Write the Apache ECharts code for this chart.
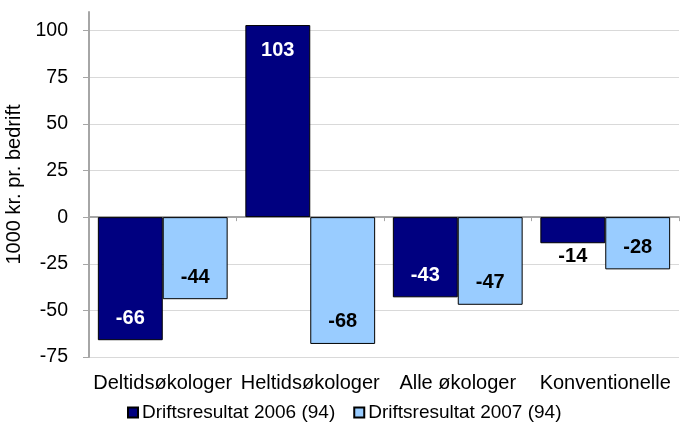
<!DOCTYPE html>
<html>
<head>
<meta charset="utf-8">
<script src="https://cdn.jsdelivr.net/npm/echarts@6/dist/echarts.min.js"></script>
<style>
  html, body { margin: 0; padding: 0; background: #fff; }
  #c1 { width: 680px; height: 436px; }
</style>
</head>
<body>
<div id="c1"></div>
<script>
var categories = ['Deltidsøkologer', 'Heltidsøkologer', 'Alle økologer', 'Konventionelle'];
var res2006 = [-66, 103, -43, -14];
var res2007 = [-44, -68, -47, -28];
var seriesNames = ['Driftsresultat 2006 (94)', 'Driftsresultat 2007 (94)'];

// label placement per bar: inside the end, or outside when the bar is short
function makeData(vals, inColor) {
  return vals.map(function (v) {
    var short = Math.abs(v) < 20;
    return {
      value: v,
      label: {
        position: short ? 'bottom' : (v >= 0 ? 'insideTop' : 'insideBottom'),
        distance: short ? 3 : (v >= 0 ? 15 : 12),
        color: short ? '#000' : inColor
      }
    };
  });
}

var myChart = echarts.init(document.getElementById('c1'));
myChart.setOption({
  backgroundColor: '#fff',
  textStyle: { fontFamily: 'Liberation Sans, Arial, sans-serif' },
  grid: { left: 89, right: 1, top: 12, bottom: 79, containLabel: false, outerBoundsMode: 'none' },
  legend: {
    bottom: 9,
    left: 122,
    itemWidth: 10,
    itemHeight: 10,
    itemGap: 18,
    icon: 'rect',
    textStyle: { fontSize: 19, color: '#000', padding: [0, 0, 0, -1], fontFamily: 'Liberation Sans, Arial, sans-serif' },
    data: seriesNames
  },
  xAxis: [{
    type: 'category',
    data: categories,
    position: 'bottom',
    axisLine: { show: false, onZero: false },
    axisTick: { show: false },
    axisLabel: { fontSize: 20, color: '#000', margin: 16, interval: 0, hideOverlap: false }
  }, {
    type: 'category',
    data: categories,
    position: 'bottom',
    axisLine: { show: true, onZero: true, lineStyle: { color: '#a6a6a6', width: 2 } },
    axisTick: { show: true, inside: false, length: 4, lineStyle: { color: '#a6a6a6' } },
    axisLabel: { show: false }
  }],
  yAxis: {
    type: 'value',
    min: -75,
    max: 110,
    interval: 25,
    name: '1000 kr. pr. bedrift',
    nameLocation: 'middle',
    nameGap: 58,
    nameTextStyle: { fontSize: 20, color: '#000' },
    axisLine: { show: true, lineStyle: { color: '#a6a6a6', width: 2 } },
    axisTick: { show: true, length: 6, lineStyle: { color: '#a6a6a6' } },
    axisLabel: {
      fontSize: 19.5, color: '#000', margin: 21, showMaxLabel: false,
      formatter: function (v) { return v > 100 ? '' : v; }
    },
    splitLine: { show: true, showMaxLine: false, lineStyle: { color: '#d9d9d9', width: 1 } }
  },
  series: [{
    name: seriesNames[0],
    type: 'bar',
    xAxisIndex: 0,
    barGap: '0%',
    barCategoryGap: '12%',
    itemStyle: { color: '#000080', borderColor: '#000', borderWidth: 1 },
    label: { show: true, fontSize: 20, fontWeight: 'bold' },
    data: makeData(res2006, '#fff')
  }, {
    name: seriesNames[1],
    type: 'bar',
    xAxisIndex: 0,
    itemStyle: { color: '#99ccff', borderColor: '#000', borderWidth: 1 },
    label: { show: true, fontSize: 20, fontWeight: 'bold' },
    data: makeData(res2007, '#000')
  }]
});
</script>
</body>
</html>
